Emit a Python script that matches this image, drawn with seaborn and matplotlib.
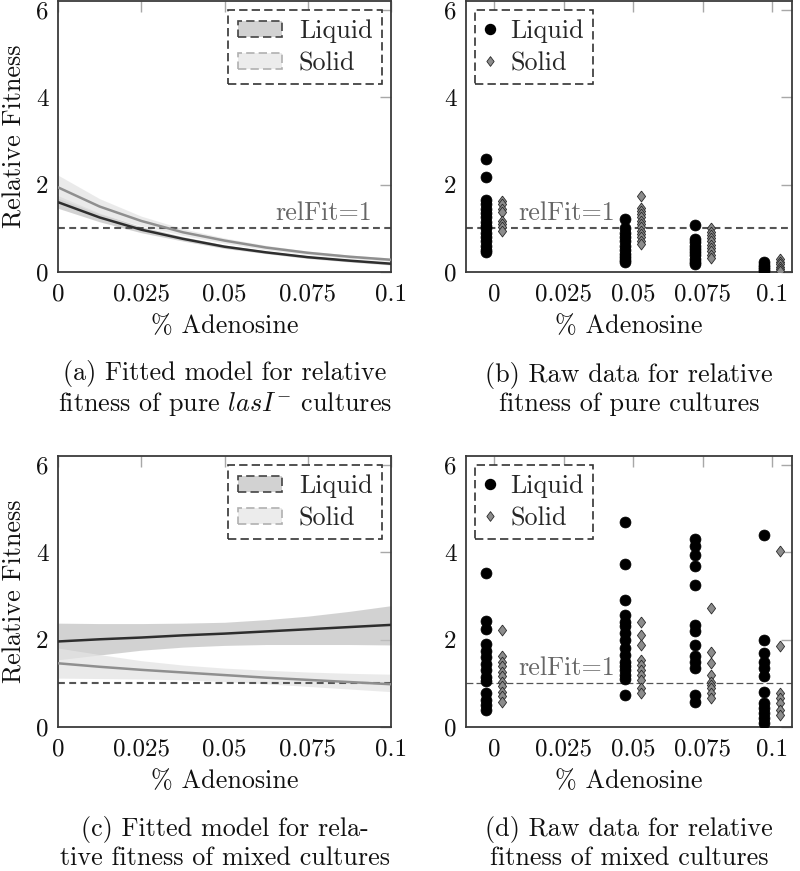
import numpy as np
import pandas as pd
import matplotlib
matplotlib.use("Agg")
import matplotlib.pyplot as plt
import seaborn as sns
from matplotlib.patches import Patch
from matplotlib.lines import Line2D

# ---------------- data ----------------
conc_fit = [0, 0.0125, 0.025, 0.0375, 0.05, 0.0625, 0.075, 0.0875, 0.1]

# (a) pure cultures, fitted model
a_liq = [1.60, 1.25, 0.97, 0.76, 0.58, 0.45, 0.34, 0.26, 0.19]
a_liq_hi = [1.75, 1.35, 1.04, 0.81, 0.62, 0.48, 0.37, 0.29, 0.22]
a_liq_lo = [1.46, 1.15, 0.90, 0.71, 0.54, 0.42, 0.31, 0.23, 0.16]
a_sol = [1.94, 1.50, 1.17, 0.91, 0.72, 0.56, 0.44, 0.35, 0.28]
a_sol_hi = [2.22, 1.68, 1.28, 0.99, 0.78, 0.61, 0.48, 0.39, 0.32]
a_sol_lo = [1.69, 1.33, 1.06, 0.84, 0.66, 0.51, 0.40, 0.31, 0.24]

# (c) mixed cultures, fitted model
c_liq = [1.96, 2.01, 2.05, 2.10, 2.14, 2.19, 2.24, 2.29, 2.34]
c_liq_hi = [2.38, 2.37, 2.37, 2.38, 2.40, 2.46, 2.54, 2.65, 2.78]
c_liq_lo = [1.54, 1.65, 1.76, 1.83, 1.87, 1.89, 1.89, 1.89, 1.88]
c_sol = [1.46, 1.38, 1.31, 1.25, 1.19, 1.13, 1.08, 1.03, 0.98]
c_sol_hi = [1.81, 1.66, 1.52, 1.42, 1.35, 1.30, 1.26, 1.23, 1.21]
c_sol_lo = [1.12, 1.11, 1.10, 1.08, 1.04, 0.99, 0.93, 0.87, 0.81]

# (b) pure cultures, raw data
b_liquid = {
    0.0: [2.60, 2.17, 1.65, 1.55, 1.45, 1.35, 1.25, 1.15, 1.05, 1.00, 0.90, 0.80, 0.70, 0.60, 0.50, 0.45],
    0.05: [1.22, 1.00, 0.90, 0.80, 0.70, 0.60, 0.50, 0.42, 0.35, 0.28, 0.22],
    0.075: [1.07, 0.76, 0.68, 0.60, 0.52, 0.45, 0.38, 0.30, 0.22, 0.18],
    0.1: [0.22, 0.16, 0.11, 0.06, 0.02],
}
b_solid = {
    0.0: [1.63, 1.55, 1.45, 1.38, 1.17, 1.10, 1.02, 0.95],
    0.05: [1.75, 1.47, 1.40, 1.32, 1.25, 1.17, 1.10, 1.02, 0.95, 0.87, 0.80, 0.72, 0.65],
    0.075: [1.00, 0.92, 0.85, 0.78, 0.70, 0.62, 0.55, 0.47, 0.40, 0.33],
    0.1: [0.30, 0.24, 0.18, 0.12, 0.06, 0.02],
}

# (d) mixed cultures, raw data
d_liquid = {
    0.0: [3.53, 2.42, 2.25, 1.90, 1.75, 1.60, 1.45, 1.30, 1.15, 1.05, 0.78, 0.62, 0.50, 0.38],
    0.05: [4.70, 3.74, 2.92, 2.57, 2.40, 2.31, 2.15, 2.00, 1.81, 1.65, 1.50, 1.40, 1.30, 1.20, 1.10, 0.74],
    0.075: [4.30, 4.14, 3.95, 3.69, 3.26, 2.34, 2.19, 1.89, 1.62, 1.50, 1.35, 0.74, 0.58],
    0.1: [4.41, 2.00, 1.69, 1.50, 1.35, 1.16, 0.81, 0.54, 0.43, 0.31, 0.20, 0.10],
}
d_solid = {
    0.0: [2.23, 1.62, 1.50, 1.39, 1.27, 1.16, 1.04, 0.93, 0.81, 0.70, 0.58],
    0.05: [2.41, 2.10, 1.87, 1.54, 1.43, 1.31, 1.20, 1.08, 0.89, 0.77],
    0.075: [2.73, 1.73, 1.46, 1.20, 1.04, 0.97, 0.89, 0.77, 0.66],
    0.1: [4.03, 1.85, 0.77, 0.66, 0.54, 0.39, 0.28],
}

xticks = [0, 0.025, 0.05, 0.075, 0.1]
xticklabels = ["0", "0.025", "0.05", "0.075", "0.1"]
yticks = [0, 2, 4, 6]
yticklabels = ["0", "2", "4", "6"]
series = ["Liquid", "Solid"]

captions = [
    "(a) Fitted model for relative\nfitness of pure $\\mathit{lasI}^{-}$ cultures",
    "(b) Raw data for relative\nfitness of pure cultures",
    "(c) Fitted model for rela-\ntive fitness of mixed cultures",
    "(d) Raw data for relative\nfitness of mixed cultures",
]

# ---------------- style ----------------
sns.set_theme(style="white")
plt.rcParams["font.family"] = ["cmr10", "DejaVu Serif"]
plt.rcParams["mathtext.fontset"] = "cm"
plt.rcParams["axes.formatter.use_mathtext"] = True
plt.rcParams["axes.unicode_minus"] = False

FS = 18.8
FS_TICK = 18
LIQ_LINE = "#2e2e2e"
SOL_LINE = "#8f8f8f"
LIQ_BAND = "#c4c4c4"
SOL_BAND = "#e4e4e4"
REF = "#555555"
DIAMOND = [(0, 1), (0.75, 0), (0, -1), (-0.75, 0), (0, 1)]
FRAME_DASH = (0, (5, 2.5))

W, H = 800, 871
fig = plt.figure(figsize=(W / 100, H / 100), dpi=100)


def px_axes(left, top, right, bottom):
    return fig.add_axes([left / W, 1 - bottom / H, (right - left) / W, (bottom - top) / H])


ax_a = px_axes(58, 1, 391, 272)
ax_b = px_axes(466, 1, 792, 272)
ax_c = px_axes(58, 456, 391, 727)
ax_d = px_axes(466, 456, 792, 727)


def style_axes(ax, xlim):
    ax.set_xlim(*xlim)
    ax.set_ylim(0, 6.21)
    ax.set_xticks(xticks)
    ax.set_xticklabels(xticklabels)
    ax.set_yticks(yticks)
    ax.set_yticklabels(yticklabels)
    ax.tick_params(direction="in", length=8, width=1.0, color="#a8a8a8",
                   top=True, right=True, labelsize=FS_TICK, pad=7, labelcolor="#111111")
    ax.tick_params(axis="x", pad=8)
    for sp in ax.spines.values():
        sp.set_color("#3a3a3a")
        sp.set_linewidth(1.3)
        sp.set_visible(True)
    ax.set_xlabel("% Adenosine", fontsize=FS, color="#111111")
    ax.xaxis.set_label_coords(0.5, -(326 - 272) / 271)
    ax.xaxis.label.set_va("center")


def style_frame(leg):
    fr = leg.get_frame()
    fr.set_linestyle(FRAME_DASH)
    fr.set_edgecolor("#333333")
    fr.set_linewidth(1.2)
    fr.set_alpha(1)


def ref_line(ax, label_x, ha, lw, dashes):
    ax.axhline(1, color=REF, lw=lw, dashes=dashes, zorder=1)
    ax.text(label_x, 1.36, "relFit=1", fontsize=FS, color="#666666", va="center", ha=ha, zorder=2)


def fitted(ax, liq, liq_lo, liq_hi, sol, sol_lo, sol_hi):
    ax.fill_between(conc_fit, liq_lo, liq_hi, color=LIQ_BAND, alpha=0.75, lw=0, zorder=1)
    ax.fill_between(conc_fit, sol_lo, sol_hi, color=SOL_BAND, alpha=0.75, lw=0, zorder=1)
    df = pd.DataFrame({"x": conc_fit * 2, "y": list(liq) + list(sol),
                       "s": ["Liquid"] * len(liq) + ["Solid"] * len(sol)})
    sns.lineplot(data=df, x="x", y="y", hue="s", palette={"Liquid": LIQ_LINE, "Solid": SOL_LINE},
                 ax=ax, lw=1.8, legend=False, zorder=3, estimator=None)
    handles = [Patch(facecolor="#d2d2d2", edgecolor="#444444", linestyle=FRAME_DASH, lw=1.2),
               Patch(facecolor="#ececec", edgecolor="#b0b0b0", linestyle=FRAME_DASH, lw=1.2)]
    leg = ax.legend(handles, series, loc="upper right", fontsize=FS, frameon=True, fancybox=False,
                    borderaxespad=0.35, handlelength=1.7, handleheight=0.6, handletextpad=0.65,
                    borderpad=0.35, labelspacing=0.32)
    style_frame(leg)


def raw(ax, liq, sol):
    rows = []
    for c, vals in liq.items():
        for v in vals:
            rows.append((c - 0.0028, v, "Liquid"))
    for c, vals in sol.items():
        for v in vals:
            rows.append((c + 0.0030, v, "Solid"))
    df = pd.DataFrame(rows, columns=["x", "y", "s"])
    sns.scatterplot(data=df[df.s == "Liquid"], x="x", y="y", ax=ax, marker="o", s=62,
                    color="black", edgecolor="black", linewidth=0.5, legend=False, zorder=3)
    sns.scatterplot(data=df[df.s == "Solid"], x="x", y="y", ax=ax, marker=DIAMOND, s=62,
                    color="#8c8c8c", edgecolor="#2a2a2a", linewidth=0.6, legend=False, zorder=4)
    handles = [Line2D([], [], ls="none", marker="o", ms=7.2, color="black"),
               Line2D([], [], ls="none", marker=DIAMOND, ms=7.0, markerfacecolor="#8c8c8c",
                      markeredgecolor="#2a2a2a", markeredgewidth=0.6)]
    leg = ax.legend(handles, series, loc="upper left", fontsize=FS, frameon=True, fancybox=False,
                    borderaxespad=0.35, handlelength=0.4, handletextpad=0.6,
                    borderpad=0.35, labelspacing=0.32)
    style_frame(leg)


xl_fit = (0, 0.1)
xl_raw = (-0.0101, 0.1072)

for ax, xl in [(ax_a, xl_fit), (ax_b, xl_raw), (ax_c, xl_fit), (ax_d, xl_raw)]:
    style_axes(ax, xl)

fitted(ax_a, a_liq, a_liq_lo, a_liq_hi, a_sol, a_sol_lo, a_sol_hi)
fitted(ax_c, c_liq, c_liq_lo, c_liq_hi, c_sol, c_sol_lo, c_sol_hi)
raw(ax_b, b_liquid, b_solid)
raw(ax_d, d_liquid, d_solid)

ref_line(ax_a, 0.0942, "right", 1.5, (3.3, 2.1))
ref_line(ax_b, 0.0086, "left", 1.5, (3.3, 2.1))
ax_c.axhline(1, color=REF, lw=1.5, dashes=(3.3, 2.1), zorder=2)
ref_line(ax_d, 0.0086, "left", 0.9, (5.5, 2.5))

for ax in [ax_a, ax_c]:
    ax.set_ylabel("Relative Fitness", fontsize=FS, color="#111111")
    ax.yaxis.set_label_coords(-(58 - 15) / 333, 0.5)
    ax.yaxis.label.set_va("center")
for ax in [ax_b, ax_d]:
    ax.set_ylabel("")

cap_pos = [(225, 389), (629, 389), (225, 843), (629, 843)]
for (cx, cy), cap in zip(cap_pos, captions):
    fig.text(cx / W, 1 - cy / H, cap, fontsize=FS, ha="center", va="center",
             linespacing=1.15, color="#111111")

fig.savefig("out.png", dpi=100)
